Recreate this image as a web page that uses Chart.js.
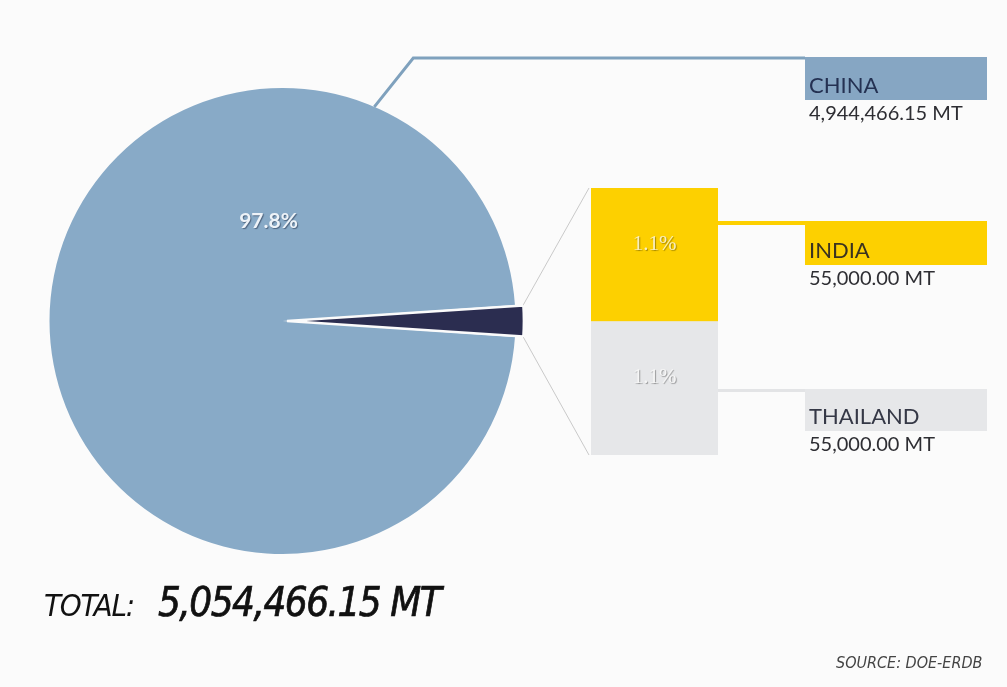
<!DOCTYPE html>
<html>
<head>
<meta charset="utf-8">
<script src="https://cdn.jsdelivr.net/npm/chart.js@4.4.1/dist/chart.umd.min.js"></script>
<style>
  html, body { margin: 0; padding: 0; background: #fbfbfb; }
  #wrap { position: relative; width: 1007px; height: 687px; overflow: hidden; background: #fbfbfb; }
  canvas { position: absolute; }
  #pieChart { left: 0; top: 0; }
  #barChart { left: 591px; top: 188px; }
  .total { position: absolute; left: 44px; top: 579px; font-family: 'Liberation Sans Narrow', 'DejaVu Sans Condensed', sans-serif; font-style: italic; color: #111; white-space: nowrap; }
  .total .lbl { font-size: 31px; letter-spacing: -1.2px; }
  .total .num { font-size: 40px; margin-left: 24px; letter-spacing: -1.5px; -webkit-text-stroke: 0.7px #111; }
  .source { position: absolute; left: 836px; top: 653px; font-family: 'Liberation Sans Narrow', 'DejaVu Sans Condensed', sans-serif; font-style: italic; font-size: 16px; color: #444; }
</style>
</head>
<body>
<div id="wrap">
  <canvas id="pieChart" width="1007" height="687"></canvas>
  <canvas id="barChart" width="127" height="267"></canvas>
  <div class="total"><span class="lbl">TOTAL:</span><span class="num" id="totalNum"></span></div>
  <div class="source">SOURCE: DOE-ERDB</div>
</div>
<script>
// Production by country (metric tonnes)
const countries = ['CHINA', 'INDIA', 'THAILAND'];
const tonnes = [4944466.15, 55000.00, 55000.00];
const colors = ['#88aac7', '#fdd000', '#e6e7e9'];
const otherColor = '#2b2d50';

const total = tonnes.reduce((a, b) => a + b, 0);
const pct = v => (v / total * 100).toFixed(1) + '%';
const fmt = v => v.toLocaleString('en-US', { minimumFractionDigits: 2, maximumFractionDigits: 2 });

document.getElementById('totalNum').textContent = fmt(total) + ' MT';

const LABEL_FONT = "'Lato', 'Open Sans', sans-serif";

// stacked bar breaking down the small slice (Thailand bottom, India top)
const barChart = new Chart(document.getElementById('barChart'), {
  type: 'bar',
  data: {
    labels: ['OTHERS'],
    datasets: [
      { label: countries[2], data: [tonnes[2]], backgroundColor: colors[2] },
      { label: countries[1], data: [tonnes[1]], backgroundColor: colors[1] }
    ]
  },
  options: {
    responsive: false,
    animation: false,
    events: [],
    layout: { padding: 0 },
    barPercentage: 1,
    categoryPercentage: 1,
    plugins: { legend: { display: false }, tooltip: { enabled: false } },
    scales: {
      x: { stacked: true, display: false },
      y: { stacked: true, display: false, min: 0, max: tonnes[1] + tonnes[2] }
    }
  },
  plugins: [{
    id: 'barPct',
    afterDatasetsDraw(chart) {
      const ctx = chart.ctx;
      ctx.save();
      ctx.font = "21px 'Liberation Serif', 'DejaVu Serif', serif";
      ctx.textAlign = 'center';
      ctx.textBaseline = 'middle';
      chart.data.datasets.forEach((ds, i) => {
        const bar = chart.getDatasetMeta(i).data[0];
        const idx = countries.indexOf(ds.label);
        const cy = bar.y + (bar.base - bar.y) * 0.42;
        ctx.shadowColor = 'rgba(0,0,0,0.35)';
        ctx.shadowOffsetX = 1;
        ctx.shadowOffsetY = 1;
        ctx.shadowBlur = 1;
        ctx.fillStyle = idx === 1 ? '#f8eec0' : '#f6f6f6';
        ctx.fillText(pct(tonnes[idx]), bar.x, cy);
      });
      ctx.restore();
    }
  }]
});

// pie: China vs. the rest, small slice pointing right and pulled out
const otherVal = tonnes[1] + tonnes[2];
const otherDeg = otherVal / total * 360;

const calloutPlugin = {
  id: 'callouts',
  afterDatasetsDraw(chart) {
    const ctx = chart.ctx;
    const meta = chart.getDatasetMeta(0);
    const china = meta.data[0];
    const other = meta.data[1];
    const cx = china.x, cy = china.y, r = china.outerRadius;

    // percentage on the big slice
    ctx.save();
    ctx.font = "bold 21px " + LABEL_FONT;
    ctx.textAlign = 'center';
    ctx.textBaseline = 'middle';
    ctx.shadowColor = 'rgba(40,55,80,0.6)';
    ctx.shadowOffsetX = 1;
    ctx.shadowOffsetY = 1;
    ctx.shadowBlur = 1;
    ctx.fillStyle = '#eef3f8';
    ctx.fillText(pct(tonnes[0]), cx - 0.06 * r, cy - 0.43 * r);
    ctx.restore();

    // corners of the pulled-out slice
    const off = other.options.offset || 0;
    const half = (other.startAngle + other.endAngle) / 2;
    const rr = other.outerRadius + off / 4 * (1 - Math.sin(Math.min(Math.PI, other.circumference)));
    const ox = other.x + Math.cos(half) * off / 4;
    const oy = other.y + Math.sin(half) * off / 4;
    const c1 = { x: ox + rr * Math.cos(other.startAngle), y: oy + rr * Math.sin(other.startAngle) };
    const c2 = { x: ox + rr * Math.cos(other.endAngle), y: oy + rr * Math.sin(other.endAngle) };

    // bar element positions in page coordinates
    const barRect = barChart.canvas.getBoundingClientRect();
    const pieRect = chart.canvas.getBoundingClientRect();
    const dx = barRect.left - pieRect.left, dy = barRect.top - pieRect.top;
    const thai = barChart.getDatasetMeta(0).data[0];
    const india = barChart.getDatasetMeta(1).data[0];
    const barL = dx + thai.x - thai.width / 2;
    const barR = dx + thai.x + thai.width / 2;

    ctx.save();
    ctx.strokeStyle = '#c9c9c9';
    ctx.lineWidth = 1;
    ctx.beginPath();
    ctx.moveTo(c1.x, c1.y);
    ctx.lineTo(barL - 2, dy + india.y);
    ctx.moveTo(c2.x, c2.y);
    ctx.lineTo(barL - 2, dy + thai.base);
    ctx.stroke();
    ctx.restore();

    // label bands on the right
    const bandL = 805, bandR = 987;
    const drawBand = (top, h, color, name, value, textColor) => {
      ctx.fillStyle = color;
      ctx.fillRect(bandL, top, bandR - bandL, h);
      ctx.textAlign = 'left';
      ctx.textBaseline = 'alphabetic';
      ctx.font = "22px " + LABEL_FONT;
      ctx.fillStyle = textColor;
      ctx.fillText(name, bandL + 4, top + h - 7);
      ctx.font = "20px " + LABEL_FONT;
      ctx.fillStyle = '#2e2e33';
      ctx.fillText(value, bandL + 4, top + h + 20);
    };

    ctx.save();
    // China leader: from the rim up to an elbow, then across
    const a = -66.8 * Math.PI / 180;
    const sx = cx + r * Math.cos(a), sy = cy + r * Math.sin(a);
    const chinaTop = 57;
    ctx.strokeStyle = '#7fa1bd';
    ctx.lineWidth = 3;
    ctx.beginPath();
    ctx.moveTo(sx, sy);
    ctx.lineTo(sx + 39, chinaTop + 1);
    ctx.lineTo(bandL, chinaTop + 1);
    ctx.stroke();
    drawBand(chinaTop, 43, '#86a6c3', countries[0], fmt(tonnes[0]) + ' MT', '#243152');

    // India leader from the bar
    const indiaTop = 221;
    ctx.strokeStyle = colors[1];
    ctx.lineWidth = 4;
    ctx.beginPath();
    ctx.moveTo(barR, indiaTop + 2);
    ctx.lineTo(bandL, indiaTop + 2);
    ctx.stroke();
    drawBand(indiaTop, 44, colors[1], countries[1], fmt(tonnes[1]) + ' MT', '#3b3320');

    // Thailand leader from the bar
    const thaiTop = 389;
    ctx.strokeStyle = '#e3e4e6';
    ctx.lineWidth = 3;
    ctx.beginPath();
    ctx.moveTo(barR, thaiTop + 1.5);
    ctx.lineTo(bandL, thaiTop + 1.5);
    ctx.stroke();
    drawBand(thaiTop, 42, colors[2], countries[2], fmt(tonnes[2]) + ' MT', '#353846');
    ctx.restore();
  }
};

new Chart(document.getElementById('pieChart'), {
  type: 'pie',
  data: {
    labels: [countries[0], 'OTHERS'],
    datasets: [{
      data: [tonnes[0], otherVal],
      backgroundColor: [colors[0], otherColor],
      borderColor: '#fbfbfb',
      borderWidth: [0, 2.5],
      offset: [0, 18],
      hoverOffset: 0
    }]
  },
  options: {
    responsive: false,
    animation: false,
    events: [],
    radius: 233,
    rotation: 90 + otherDeg / 2,
    layout: { padding: { left: 49, right: 491, top: 88, bottom: 133 } },
    plugins: { legend: { display: false }, tooltip: { enabled: false } }
  },
  plugins: [calloutPlugin]
});
</script>
</body>
</html>
